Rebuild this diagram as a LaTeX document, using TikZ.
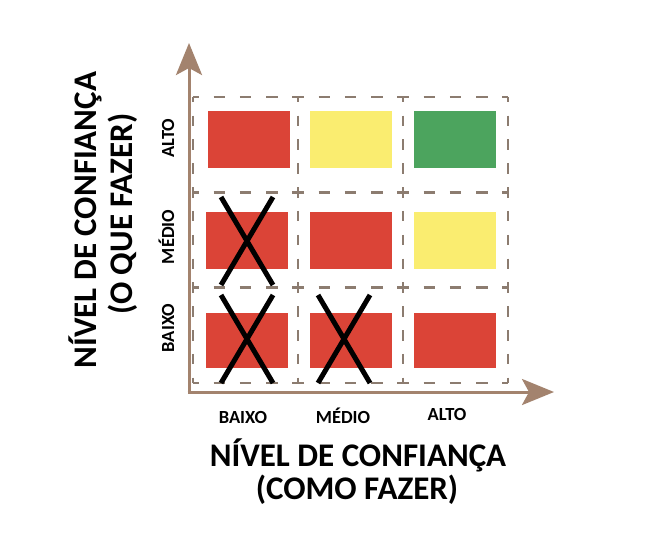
\documentclass[tikz,border=0pt]{standalone}
\usepackage{fontspec}
\setmainfont{Carlito}
\usetikzlibrary{arrows.meta}
\definecolor{axisbrown}{RGB}{163,131,110}
\definecolor{gridbrown}{RGB}{140,124,112}
\definecolor{cellred}{RGB}{219,68,55}
\definecolor{cellyellow}{RGB}{250,237,112}
\definecolor{cellgreen}{RGB}{76,164,94}
\begin{document}
\begin{tikzpicture}[x=1pt,y=-1pt,
  cell/.style={draw=none, minimum width=82pt, minimum height=57pt, inner sep=0pt},
  hgrid/.style={draw=gridbrown, line width=2.6pt, dash pattern=on 11.5pt off 14.75pt, dash phase=5.75pt},
  vgrid/.style={draw=gridbrown, line width=2.6pt, dash pattern=on 10.5pt off 13.33pt, dash phase=5.25pt},
  axisline/.style={draw=axisbrown, line width=3pt, -{Stealth[length=32pt,width=26pt,inset=7pt]}},
  crossline/.style={draw=black, line width=5pt},
  ticklabel/.style={font=\bfseries\fontsize{18.5}{22}\selectfont, inner sep=0pt, anchor=base},
  titlelabel/.style={font=\bfseries\fontsize{33}{38}\selectfont, inner sep=0pt, anchor=base}]
\useasboundingbox[fill=white] (0,0) rectangle (652,558);
% grid
\foreach \i in {0,1,2,3}{
  \foreach \j in {0,1,2,3}{
    \coordinate (g\i\j) at ({193+105*\i},{97+95.333*\j});
  }
}
\foreach \i/\k in {0/1,1/2,2/3}{
  \foreach \j in {0,1,2,3}{
    \draw[hgrid] (g\i\j) -- (g\k\j);
    \draw[vgrid] (g\j\i) -- (g\j\k);
  }
}
% cells
\node[cell, fill=cellred]    (c13) at (249,139.5) {};
\node[cell, fill=cellyellow] (c23) at (351,139.5) {};
\node[cell, fill=cellgreen]  (c33) at (455,139.5) {};
\node[cell, fill=cellred]    (c12) at (246.5,240.5) {};
\node[cell, fill=cellred]    (c22) at (351,240.5) {};
\node[cell, fill=cellyellow] (c32) at (455,240.5) {};
\node[cell, fill=cellred, minimum height=55pt] (c11) at (246.5,340.5) {};
\node[cell, fill=cellred, minimum height=55pt] (c21) at (351,340.5) {};
\node[cell, fill=cellred, minimum height=55pt] (c31) at (455,340.5) {};
% crosses
\coordinate (x12) at (247,241);
\coordinate (x11) at (247,339);
\coordinate (x21) at (344,339);
\foreach \c in {x12,x11,x21}{
  \draw[crossline] ([shift={(-26,-44)}]\c) -- ([shift={(26,44)}]\c);
  \draw[crossline] ([shift={(26,-44)}]\c) -- ([shift={(-26,44)}]\c);
}
% axes
\coordinate (origin) at (189,392);
\coordinate (ytip) at (189,43);
\coordinate (xtip) at (554,392);
\draw[axisline] ([yshift=1.5pt]origin) -- (ytip);
\draw[axisline] ([xshift=-1.5pt]origin) -- (xtip);
% tick labels
\node[ticklabel] (xl1) at (243,423) {BAIXO};
\node[ticklabel] (xl2) at (343,423) {MÉDIO};
\node[ticklabel] (xl3) at (447,420) {ALTO};
\node[ticklabel, rotate=90] (yl3) at (174,138) {ALTO};
\node[ticklabel, rotate=90] (yl2) at (174,237) {MÉDIO};
\node[ticklabel, rotate=90] (yl1) at (174,328) {BAIXO};
% titles
\node[titlelabel] (xt1) at (358,466) {NÍVEL DE CONFIANÇA};
\node[titlelabel] (xt2) at (357,499) {(COMO FAZER)};
\node[titlelabel, rotate=90] (yt1) at (96,220) {NÍVEL DE CONFIANÇA};
\node[titlelabel, rotate=90] (yt2) at (132,214) {(O QUE FAZER)};
\end{tikzpicture}
\end{document}
